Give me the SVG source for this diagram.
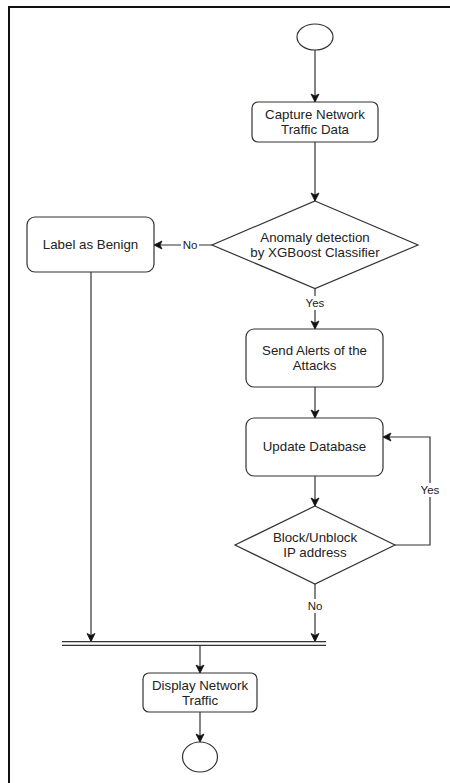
<svg xmlns="http://www.w3.org/2000/svg" width="450" height="783" viewBox="0 0 450 783">
  <style>
    .shape { fill: #ffffff; stroke: #333333; stroke-width: 1.2; }
    .edge { fill: none; stroke: #333333; stroke-width: 1.2; }
    .txt { font-family: "Liberation Sans", Arial, sans-serif; font-size: 13.3px; fill: #222222; text-anchor: middle; dominant-baseline: central; }
    .lbl { font-family: "Liberation Sans", Arial, sans-serif; font-size: 11.5px; fill: #222222; text-anchor: middle; dominant-baseline: central; }
    .lblbg { fill: #ffffff; stroke: none; }
  </style>
  <defs>
    <marker id="arrow" markerUnits="userSpaceOnUse" markerWidth="10" markerHeight="10" viewBox="0 0 10 10" refX="9" refY="5" orient="auto">
      <path d="M1,1 L9,5 L1,9 L3,5 z" fill="#111111" stroke="#111111" stroke-width="0.8"/>
    </marker>
  </defs>

  <rect width="450" height="783" fill="#ffffff"/>
  <!-- page frame -->
  <path d="M9,790 L9,7 L460,7" fill="none" stroke="#111111" stroke-width="2"/>

  <g id="connectors">
    <path class="edge" d="M315,50 L315,102" marker-end="url(#arrow)"/>
    <path class="edge" d="M315,142 L315,201" marker-end="url(#arrow)"/>
    <path class="edge" d="M212,245 L154,245" marker-end="url(#arrow)"/>
    <path class="edge" d="M315,288 L315,329" marker-end="url(#arrow)"/>
    <path class="edge" d="M315,387 L315,418" marker-end="url(#arrow)"/>
    <path class="edge" d="M315,476 L315,506" marker-end="url(#arrow)"/>
    <path class="edge" d="M395,545 L430,545 L430,437 L383,437" marker-end="url(#arrow)"/>
    <path class="edge" d="M315,584 L315,641.5" marker-end="url(#arrow)"/>
    <path class="edge" d="M91,272 L91,641.5" marker-end="url(#arrow)"/>
    <path class="edge" d="M200,645.5 L200,673" marker-end="url(#arrow)"/>
    <path class="edge" d="M200,712 L200,742" marker-end="url(#arrow)"/>

    <rect class="lblbg" x="181" y="238" width="18" height="14"/>
    <text class="lbl" x="190" y="245">No</text>
    <rect class="lblbg" x="304" y="296" width="22" height="14"/>
    <text class="lbl" x="315" y="303">Yes</text>
    <rect class="lblbg" x="419" y="483" width="22" height="14"/>
    <text class="lbl" x="430" y="490">Yes</text>
    <rect class="lblbg" x="306" y="599" width="18" height="14"/>
    <text class="lbl" x="315" y="606">No</text>
  </g>

  <g id="start">
    <ellipse class="shape" cx="315" cy="37" rx="18" ry="13"/>
  </g>

  <g id="capture">
    <rect class="shape" x="252" y="102" width="126" height="40" rx="6"/>
    <text class="txt" x="315" y="114">Capture Network</text>
    <text class="txt" x="315" y="129">Traffic Data</text>
  </g>

  <g id="detect">
    <path class="shape" d="M315,201 L418,245 L315,288.5 L212,245 z"/>
    <text class="txt" x="315" y="237">Anomaly detection</text>
    <text class="txt" x="315" y="252">by XGBoost Classifier</text>
  </g>

  <g id="benign">
    <rect class="shape" x="27" y="217" width="127" height="55" rx="8"/>
    <text class="txt" x="90.5" y="244">Label as Benign</text>
  </g>

  <g id="alerts">
    <rect class="shape" x="246" y="329" width="137" height="58" rx="8"/>
    <text class="txt" x="314.5" y="350">Send Alerts of the</text>
    <text class="txt" x="314.5" y="365">Attacks</text>
  </g>

  <g id="database">
    <rect class="shape" x="246" y="418" width="137" height="58" rx="8"/>
    <text class="txt" x="314.5" y="446">Update Database</text>
  </g>

  <g id="block">
    <path class="shape" d="M315,506 L395,545 L315,584 L235,545 z"/>
    <text class="txt" x="315" y="537">Block/Unblock</text>
    <text class="txt" x="315" y="552">IP address</text>
  </g>

  <g id="join">
    <line class="edge" x1="62" y1="641.7" x2="326" y2="641.7"/>
    <line class="edge" x1="62" y1="645.3" x2="326" y2="645.3"/>
  </g>

  <g id="display">
    <rect class="shape" x="143" y="673" width="114" height="39" rx="6"/>
    <text class="txt" x="200" y="685">Display Network</text>
    <text class="txt" x="200" y="700">Traffic</text>
  </g>

  <g id="end">
    <ellipse class="shape" cx="200" cy="757" rx="17.5" ry="15"/>
  </g>
</svg>
